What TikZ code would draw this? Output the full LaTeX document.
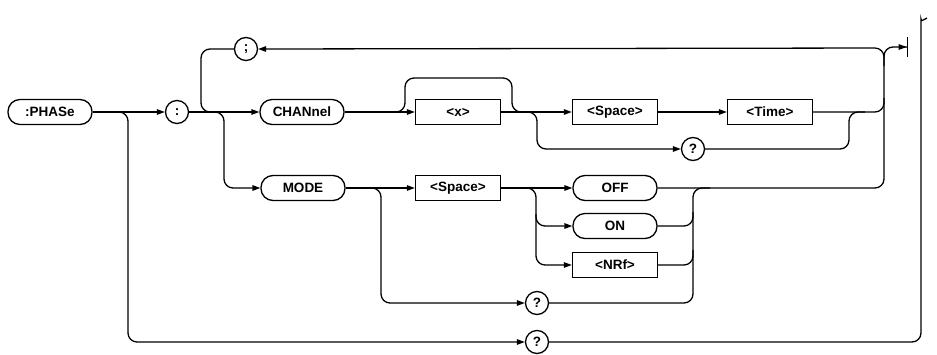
\documentclass[tikz,border=0pt]{standalone}
\usepackage{fontspec}
\setmainfont{Liberation Sans}
\usetikzlibrary{arrows.meta,positioning}

\begin{document}
\begin{tikzpicture}[
        x=1pt, y=-1pt,
        >={Triangle[length=8pt,width=5.5pt]},
        every node/.style={font=\fontsize{13.5}{15}\selectfont\bfseries},
        cmd/.style={rectangle, draw, line width=1.3pt, rounded corners=12pt, minimum width=84pt, minimum height=25pt, inner sep=0pt},
        param/.style={rectangle, draw, line width=1.3pt, minimum width=85pt, minimum height=25pt, inner sep=0pt},
        sym/.style={circle, draw, line width=1.3pt, minimum size=23pt, inner sep=0pt},
        line/.style={line width=1.3pt, rounded corners=9pt},
        flow/.style={line, ->}
    ]
    \useasboundingbox (0,0) rectangle (937,354);

    % --- Header Nodes ---
    \node[cmd] (phase) at (50,112) {:PHASe};
    \node[sym] (colon) at (177,112) {:};
    \node[sym] (semi) at (246,49) {;};

    % --- CHANnel Branch ---
    \node[cmd] (chan) at (302,112) {CHANnel};
    \node[param] (xarg) at (458,112) {<x>};
    \node[param] (space_c) at (615,112) {<Space>};
    \node[param] (time) at (770,112) {<Time>};
    \node[sym] (query_c) at (693,149) {?};

    % --- MODE Branch ---
    \node[cmd] (mode) at (303,188) {MODE};
    \node[param] (space_m) at (458,188) {<Space>};
    \node[cmd] (off) at (615,188) {OFF};
    \node[cmd] (on) at (615,226) {ON};
    \node[param] (nrf) at (615,265) {<NRf>};
    \node[sym] (query_m) at (537,303) {?};

    % --- Query Bypass ---
    \node[sym] (query_p) at (537,342) {?};
    \coordinate (term) at (908,47);

    % --- Main Connections ---
    \draw[flow] (phase.east) -- (colon.west);
    \draw[flow] (colon.east) -- (chan.west);
    \draw[line] (semi.west) -- (201,49) -- (201,112) -- (215,112);
    \draw[flow] (210,112) -- (224,112) -- (224,188) -- (mode.west);
    \draw[flow] (110,112) -- (128,112) -- (128,342) -- (query_p.west);
    \draw[line] (query_p.east) -- (921,342) -- (921,28) .. controls (921,22) and (923,20) .. (927,18);

    % --- CHANnel Connections ---
    \draw[flow] (chan.east) -- (xarg.west);
    \draw[line] (393,112) -- (405,112) -- (405,78) -- (512,78) -- (512,112) -- (525,112);
    \draw[flow] (xarg.east) -- (space_c.west);
    \draw[flow] (520,112) -- (537,112) -- (537,149) -- (query_c.west);
    \draw[flow] (space_c.east) -- (time.west);
    \draw[line] (time.east) -- (884,112) -- (884,98);
    \draw[line] (query_c.east) -- (849,149) -- (849,112) -- (865,112);

    % --- MODE Connections ---
    \draw[flow] (mode.east) -- (space_m.west);
    \draw[flow] (370,188) -- (381,188) -- (381,303) -- (query_m.west);
    \draw[flow] (space_m.east) -- (off.west);
    \draw[flow] (525,188) -- (536,188) -- (536,265) -- (nrf.west);
    \draw[flow] (536,214) -- (536,226) -- (on.west);
    \draw[line] (query_m.east) -- (693,303) -- (693,188) -- (710,188);
    \draw[line] (on.east) -- (693,226) -- (693,212);
    \draw[line] (nrf.east) -- (693,265) -- (693,250);

    % --- Right Rail, Repeat Loop and Terminator ---
    \draw[flow] (off.east) -- (884,188) -- (884,48) -- (semi.east);
    \draw[line, -{Triangle[length=8pt,width=5.5pt]Bar[width=20pt]}] (884,66) -- (884,47) -- (term);

\end{tikzpicture}
\end{document}
